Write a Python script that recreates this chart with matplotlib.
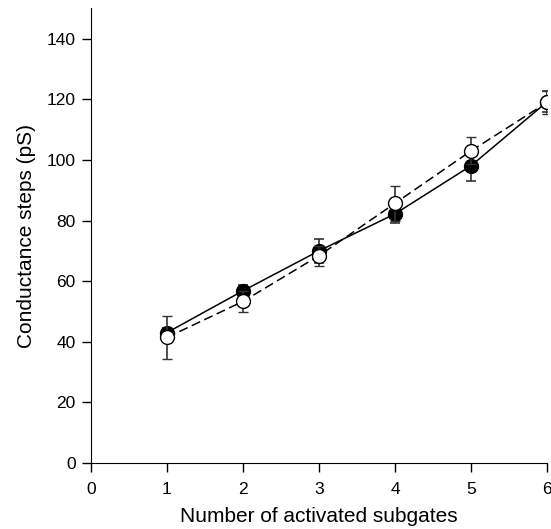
import numpy as np
import matplotlib
matplotlib.use('Agg')
import matplotlib.pyplot as plt

plt.rcParams['font.family'] = ['Liberation Sans', 'DejaVu Sans']

subgates = [1, 2, 3, 4, 5, 6]
filled_y = [43.0, 56.8, 70.0, 82.2, 98.1, 119.2]
filled_err = [1.5, 2.0, 3.9, 2.9, 5.0, 3.4]
open_y = [41.4, 53.3, 68.4, 85.7, 103.0, 119.0]
open_err = [7.0, 3.6, 3.3, 5.8, 4.5, 3.8]

fig = plt.figure(figsize=(5.51, 5.29), dpi=100)
ax = fig.add_axes([0.165, 0.125, 0.828, 0.859])

# open circles, dashed line
ax.errorbar(subgates, open_y, yerr=open_err, fmt='--', color='black', lw=1.1,
            ecolor='#333333', elinewidth=1.2, capsize=3.6, capthick=1.2,
            marker='o', ms=10, mfc='white', mec='black', mew=1.0,
            dashes=(6, 3), zorder=3)
# filled circles, solid line
ax.errorbar(subgates, filled_y, yerr=filled_err, fmt='-', color='black', lw=1.1,
            ecolor='#333333', elinewidth=1.2, capsize=3.6, capthick=1.2,
            marker='o', ms=10, mfc='black', mec='black', zorder=2)

ax.set_xlim(0, 6)
ax.set_ylim(0, 150)
ax.set_xticks(range(0, 7))
ax.set_yticks(range(0, 141, 20))
ax.spines['top'].set_visible(False)
ax.spines['right'].set_visible(False)
ax.tick_params(direction='out', length=6.5, width=1, labelsize=12.5, pad=4.5)
ax.tick_params(axis='x', pad=7.5)
ax.set_xlabel('Number of activated subgates', fontsize=15, labelpad=7)
ax.set_ylabel('Conductance steps (pS)', fontsize=15, labelpad=8)

fig.savefig('out.png', dpi=100)
